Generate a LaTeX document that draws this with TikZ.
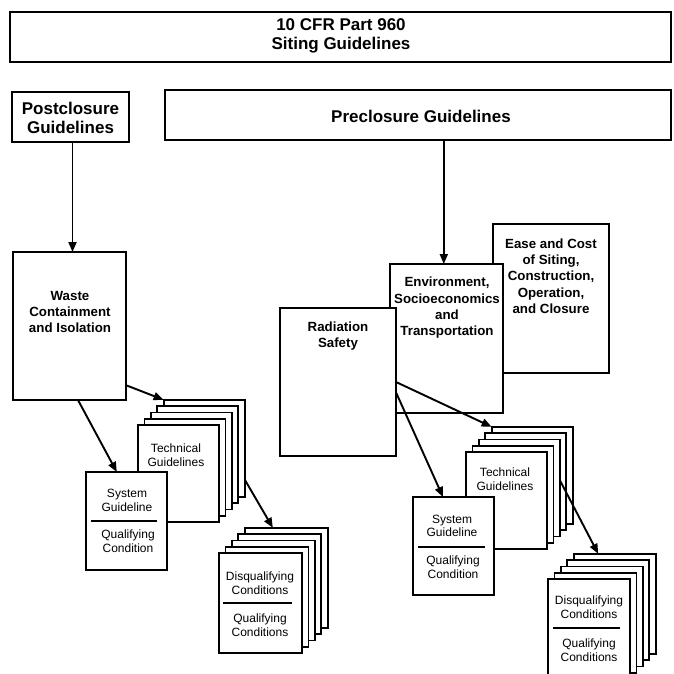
\documentclass[tikz,border=0pt]{standalone}
\usepackage{fontspec}
\setmainfont{Liberation Sans}
\usetikzlibrary{arrows.meta,calc}
\tikzset{
 box/.style={draw, line width=2pt, fill=white, inner sep=0pt, outer sep=0pt},
 sheet/.style={draw, line width=1.8pt, fill=white, inner sep=0pt, outer sep=0pt},
 big/.style={font=\fontsize{17}{18.5}\selectfont\bfseries, align=center, inner sep=0pt},
 mid/.style={font=\fontsize{13.3}{16.3}\selectfont\bfseries, align=center, inner sep=0pt},
 small/.style={font=\fontsize{12}{13.7}\selectfont, align=center, inner sep=0pt},
 arr/.style={line width=1.9pt, -{Triangle[length=10pt,width=8pt]}},
 divider/.style={line width=1.6pt}
}
\newcommand\rbox[5]{\node[box,minimum width={(#4-#2)*1pt},minimum height={(#5-#3)*1pt}] (#1) at ({(#2+#4)/2},{(#3+#5)/2}) {};}
\newcommand\sheetstack[5]{%
 \foreach \i in {4,3,2,1,0} {
  \node[sheet,minimum width=#4pt,minimum height=#5pt] (#1\i) at ({#2+#4/2+\i*6.4},{#3+#5/2-\i*6.3}) {};
 }}
\begin{document}
\begin{tikzpicture}[x=1pt,y=-1pt]
\useasboundingbox[fill=white] (0,0) rectangle (674,674);
% top level
\rbox{top}{10}{12}{671}{62}
\node[big] (toptxt) at (341,36) {10 CFR Part 960\\Siting Guidelines};
\rbox{post}{12}{92}{129}{142}
\node[big] (posttxt) at (70.5,118) {Postclosure\\Guidelines};
\rbox{pre}{165}{90}{671}{140}
\node[big] (pretxt) at (421,116) {Preclosure Guidelines};
% second level
\rbox{waste}{13}{252}{126}{400}
\node[mid] (wastetxt) at (70,312) {Waste\\Containment\\and Isolation};
\rbox{ease}{493}{224}{609}{373}
\node[mid] (easetxt) at (551,276) {Ease and Cost\\of Siting,\\Construction,\\Operation,\\and Closure};
\rbox{env}{390}{264}{503}{413}
\node[mid] (envtxt) at (447,308) {Environment,\\Socioeconomics\\and\\Transportation};
\rbox{rad}{280}{308}{396}{456}
\node[mid] (radtxt) at (338,336) {Radiation\\Safety};
% left stacks
\sheetstack{lt}{138}{425}{81}{97}
\node[small] (lttxt) at (176,455) {Technical\\Guidelines};
\rbox{sysL}{86}{472}{167}{570}
\node[small] (sysLa) at (127,500.5) {System\\Guideline};
\draw[divider] (91,521) -- (157,521);
\node[small] (sysLb) at (128,541.5) {Qualifying\\Condition};
\sheetstack{ld}{219}{553}{83}{100}
\node[small] (ldta) at (260,583.5) {Disqualifying\\Conditions};
\draw[divider] (223,603) -- (292,603);
\node[small] (ldtb) at (260,625) {Qualifying\\Conditions};
% right stacks
\sheetstack{rt}{466}{452}{81}{97}
\node[small] (rttxt) at (505,479.5) {Technical\\Guidelines};
\rbox{sysR}{413}{497}{494}{595}
\node[small] (sysRa) at (452,526) {System\\Guideline};
\draw[divider] (418,547) -- (485,547);
\node[small] (sysRb) at (453,567) {Qualifying\\Condition};
\sheetstack{rd}{548}{579}{82}{100}
\node[small] (rdta) at (589,607) {Disqualifying\\Conditions};
\draw[divider] (553,628) -- (620,628);
\node[small] (rdtb) at (589,650) {Qualifying\\Conditions};
% connectors
\draw[arr] ([xshift=2pt]post.south) -- ([xshift=2pt]post.south |- waste.north);
\coordinate (pa) at ($(pre.south west)!0.551!(pre.south east)$);
\draw[arr] (pa) -- (pa |- env.north);
\draw[arr] ($(waste.north east)!0.9!(waste.south east)$) -- (lt4.north west);
\draw[arr] ($(waste.south west)!0.575!(waste.south east)$) -- ($(sysL.north west)!0.38!(sysL.north east)$);
\draw[arr] ($(lt4.north east)!0.82!(lt4.south east)$) -- ($(ld4.north west)!0.34!(ld4.north east)$);
\draw[arr] ($(rad.north east)!0.5!(rad.south east)$) -- (rt4.north west);
\draw[arr] ($(rad.north east)!0.57!(rad.south east)$) -- ($(sysR.north west)!0.37!(sysR.north east)$);
\draw[arr] ($(rt2.north east)!0.42!(rt2.south east)$) -- ($(rd4.north west)!0.3!(rd4.north east)$);
\end{tikzpicture}
\end{document}
